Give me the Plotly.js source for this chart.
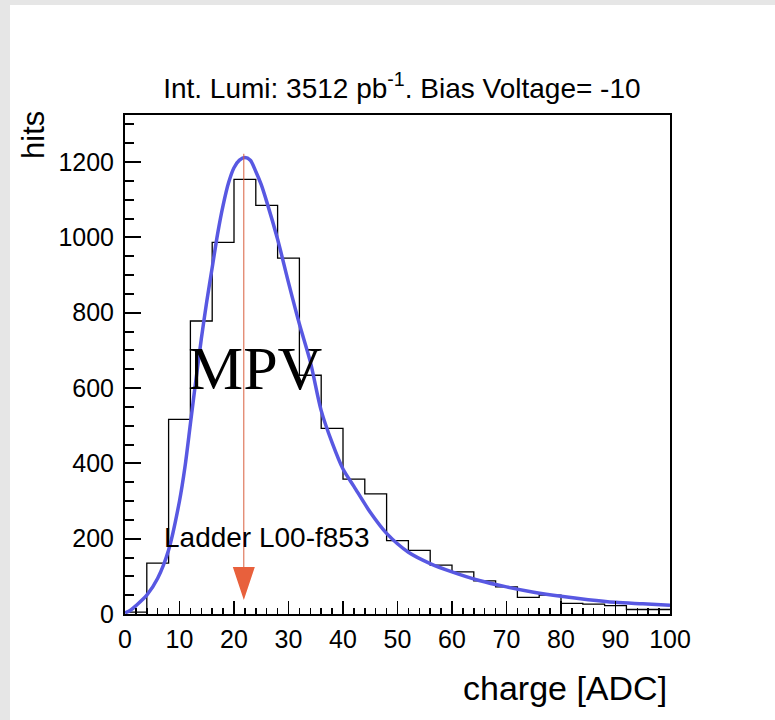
<!DOCTYPE html>
<html>
<head>
<meta charset="utf-8">
<script src="https://cdn.plot.ly/plotly-3.0.1.min.js"></script>
<style>
  html, body { margin: 0; padding: 0; background: #e6e6e6; width: 775px; height: 720px; overflow: hidden; }
  #chart { position: absolute; left: 10px; top: 5px; width: 765px; height: 715px; background: #ffffff; }
</style>
</head>
<body>
<div id="chart"></div>
<script>
// Histogram: bin low edges and counts (bin width 4 ADC)
const binLow = [0, 4, 8, 12, 16, 20, 24, 28, 32, 36, 40, 44, 48, 52, 56, 60, 64, 68, 72, 76, 80, 84, 88, 92, 96];
const binWidth = 4;
const counts = [5, 135, 517, 778, 987, 1154, 1085, 945, 634, 493, 358, 319, 195, 169, 130, 112, 88, 72, 44, 50, 28, 26, 22, 12, 12];

// Landau fit curve
const fitX = [0, 1, 2, 4, 6, 8, 10, 11, 12, 13, 14, 15, 16, 17, 18, 19, 20, 21, 22, 23, 24, 25, 26, 28, 30, 32, 34, 36, 38, 40, 42, 45, 48, 52, 56, 60, 65, 70, 75, 80, 85, 90, 95, 100];
const fitY = [3, 10, 22, 50, 95, 170, 300, 390, 505, 620, 730, 830, 920, 1010, 1085, 1145, 1185, 1205, 1212, 1205, 1175, 1140, 1095, 995, 880, 770, 670, 540, 455, 385, 339, 270, 214, 164, 134, 112, 89, 72, 58, 47, 38, 31, 27, 23];

// Most probable value marker
const mpvX = 21.8;
const mpvTop = 1222;

// Axis ticks
const xTicks = [0, 10, 20, 30, 40, 50, 60, 70, 80, 90, 100];
const yTicks = [0, 200, 400, 600, 800, 1000, 1200];

const titleText = 'Int. Lumi: 3512 pb<sup>-1</sup>. Bias Voltage= -10';
const ladderText = 'Ladder L00-f853';

// step outline of the histogram
const stepX = binLow.concat([binLow[binLow.length - 1] + binWidth]);
const stepY = counts.concat([counts[counts.length - 1]]);

const FONT = 'Liberation Sans, Arial, Helvetica, sans-serif';

const traces = [
  {
    x: stepX, y: stepY, type: 'scatter', mode: 'lines',
    line: { shape: 'hv', color: '#000000', width: 1.3 },
    hoverinfo: 'skip', showlegend: false
  },
  {
    x: fitX, y: fitY, type: 'scatter', mode: 'lines',
    line: { shape: 'spline', smoothing: 0.8, color: '#5858e2', width: 3.5 },
    hoverinfo: 'skip', showlegend: false
  }
];

const layout = {
  width: 765, height: 715,
  paper_bgcolor: '#ffffff', plot_bgcolor: '#ffffff',
  margin: { l: 115, r: 105, t: 110, b: 106 },
  showlegend: false,
  font: { family: FONT, color: '#000000', size: 25 },
  title: {
    text: titleText, x: 0.508, xref: 'paper', xanchor: 'center',
    y: 1 - 83 / 715, yref: 'container', yanchor: 'middle',
    font: { family: FONT, size: 28, color: '#000000' }
  },
  xaxis: {
    range: [0, 100], tickvals: xTicks, ticktext: xTicks.map(String),
    showgrid: false, zeroline: false,
    showline: true, linecolor: '#000000', linewidth: 2, mirror: true,
    ticks: 'inside', ticklen: 13, tickwidth: 1.5, tickcolor: '#000000',
    minor: { dtick: 2, ticks: 'inside', ticklen: 6, tickwidth: 1.5, tickcolor: '#000000', showgrid: false },
    tickfont: { family: FONT, size: 25, color: '#000000' },
    ticklabelstandoff: 2
  },
  yaxis: {
    range: [0, 1325], tickvals: yTicks, ticktext: yTicks.map(String),
    showgrid: false, zeroline: false,
    showline: true, linecolor: '#000000', linewidth: 2, mirror: true,
    ticks: 'inside', ticklen: 16, tickwidth: 2, tickcolor: '#000000',
    minor: { dtick: 50, ticks: 'inside', ticklen: 9, tickwidth: 2, tickcolor: '#000000', showgrid: false },
    tickfont: { family: FONT, size: 25, color: '#000000' },
    ticklabelstandoff: 4
  },
  shapes: [
    {
      type: 'line', xref: 'x', yref: 'y',
      x0: mpvX, x1: mpvX, y0: mpvTop, y1: 60,
      line: { color: '#d9603f', width: 1 }
    },
    {
      type: 'path', xref: 'x', yref: 'y',
      xsizemode: 'pixel', ysizemode: 'pixel', xanchor: mpvX, yanchor: 0,
      path: 'M-11,47L11,47L0,14Z',
      fillcolor: '#e8603c', line: { width: 0 }
    }
  ],
  annotations: [
    {
      text: 'MPV', xref: 'x', yref: 'y', x: 23.9, y: 653,
      xanchor: 'center', yanchor: 'middle', showarrow: false,
      font: { family: 'Liberation Serif, Times New Roman, serif', size: 62, color: '#000000' }
    },
    {
      text: ladderText, xref: 'x', yref: 'y', x: 6.8, y: 204,
      xanchor: 'left', yanchor: 'middle', showarrow: false,
      font: { family: FONT, size: 28, color: '#000000' }
    },
    {
      text: 'hits', xref: 'paper', yref: 'paper', x: -0.169, y: 1.012,
      xanchor: 'center', yanchor: 'top', textangle: -90, showarrow: false,
      font: { family: FONT, size: 31, color: '#000000' }
    },
    {
      text: 'charge [ADC]', xref: 'paper', yref: 'paper', x: 0.998, y: -0.148,
      xanchor: 'right', yanchor: 'middle', showarrow: false,
      font: { family: FONT, size: 34, color: '#000000' }
    }
  ]
};

Plotly.newPlot('chart', traces, layout, { displayModeBar: false, staticPlot: true });
</script>
</body>
</html>
